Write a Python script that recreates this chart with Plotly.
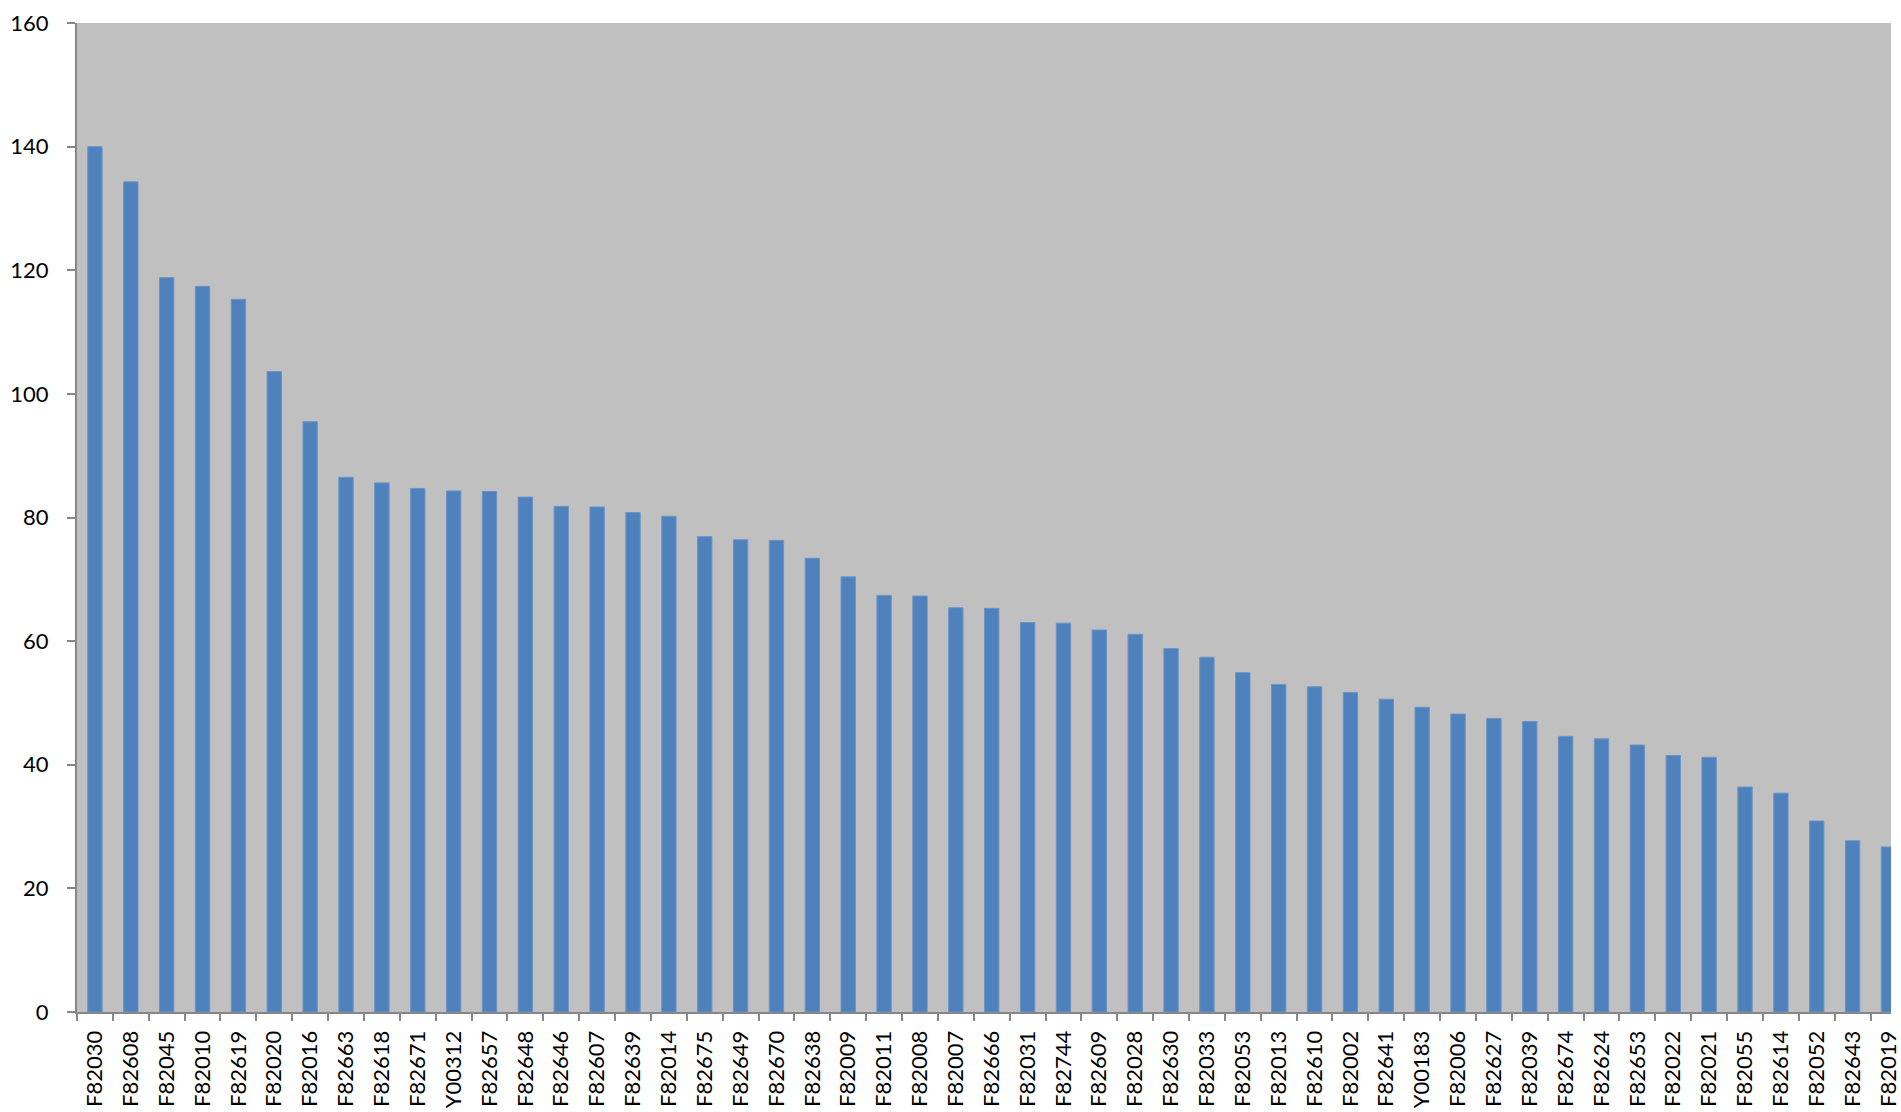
import plotly.graph_objects as go

categories = ["F82030", "F82608", "F82045", "F82010", "F82619", "F82020", "F82016", "F82663",
              "F82618", "F82671", "Y00312", "F82657", "F82648", "F82646", "F82607", "F82639",
              "F82014", "F82675", "F82649", "F82670", "F82638", "F82009", "F82011", "F82008",
              "F82007", "F82666", "F82031", "F82744", "F82609", "F82028", "F82630", "F82033",
              "F82053", "F82013", "F82610", "F82002", "F82641", "Y00183", "F82006", "F82627",
              "F82039", "F82674", "F82624", "F82653", "F82022", "F82021", "F82055", "F82614",
              "F82052", "F82643", "F82019"]

values = [140.0, 134.3, 118.8, 117.4, 115.3, 103.6, 95.5, 86.5,
          85.6, 84.7, 84.3, 84.2, 83.3, 81.8, 81.7, 80.8,
          80.2, 76.9, 76.4, 76.3, 73.4, 70.4, 67.4, 67.3,
          65.4, 65.3, 63.0, 62.9, 61.8, 61.1, 58.8, 57.4,
          54.9, 53.0, 52.6, 51.7, 50.6, 49.3, 48.2, 47.5,
          47.0, 44.6, 44.2, 43.2, 41.5, 41.2, 36.4, 35.4,
          30.9, 27.7, 26.7]

y_ticks = [0, 20, 40, 60, 80, 100, 120, 140, 160]

FONT = "Lato"
FSIZE = 22

fig = go.Figure(go.Bar(
    x=categories,
    y=values,
    width=0.4,
    marker=dict(color="#4F81BD", line=dict(color="#6A94C8", width=1)),
))

fig.update_layout(
    width=1901,
    height=1112,
    margin=dict(l=77, r=0, t=23, b=100),
    paper_bgcolor="white",
    plot_bgcolor="#C0C0C0",
    showlegend=False,
    font=dict(family=FONT, size=FSIZE, color="black"),
    bargap=0.6,
)

fig.update_xaxes(
    type="category",
    range=[-0.5, 50.07],
    tickangle=-90,
    ticks="outside",
    tickson="boundaries",
    ticklen=7,
    tickwidth=1.5,
    tickcolor="#868686",
    showline=True,
    linecolor="#868686",
    linewidth=2,
    showgrid=False,
    zeroline=False,
    tickfont=dict(family=FONT, size=FSIZE, color="black"),
    ticklabelstandoff=8,
)

fig.update_yaxes(
    range=[0, 160],
    tickvals=y_ticks,
    ticks="outside",
    ticklen=8,
    tickwidth=1.5,
    tickcolor="#868686",
    showline=True,
    linecolor="#868686",
    linewidth=2,
    showgrid=False,
    zeroline=False,
    tickfont=dict(family=FONT, size=FSIZE, color="black"),
    ticklabelstandoff=14,
)

fig.write_html("out.html")
